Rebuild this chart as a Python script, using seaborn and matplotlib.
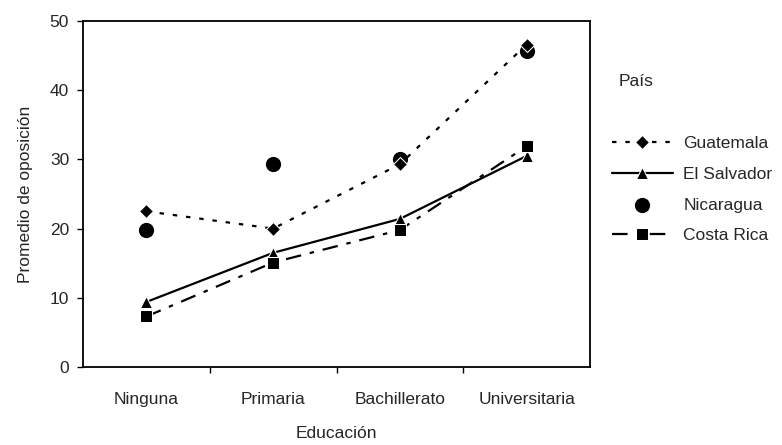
import matplotlib
matplotlib.use('Agg')
import matplotlib.pyplot as plt
import seaborn as sns
import pandas as pd
from matplotlib.ticker import FixedLocator, NullFormatter

# datos
educacion = ['Ninguna', 'Primaria', 'Bachillerato', 'Universitaria']
guatemala = [22.5, 20.0, 29.3, 46.6]
el_salvador = [9.4, 16.5, 21.4, 30.5]
nicaragua = [19.8, 29.4, 30.1, 45.6]
costa_rica = [7.3, 15.1, 19.8, 31.9]


def main():
    sns.set_theme(style='ticks')
    plt.rcParams['font.family'] = ['Liberation Sans', 'DejaVu Sans']
    fs = 12.5

    fig = plt.figure(figsize=(7.82, 4.45), dpi=100)
    ax = fig.add_axes([83 / 782, 78 / 445, 507 / 782, 346 / 445])

    df = pd.DataFrame({'Educación': educacion, 'Guatemala': guatemala,
                       'El Salvador': el_salvador, 'Nicaragua': nicaragua,
                       'Costa Rica': costa_rica})

    sns.lineplot(data=df, x='Educación', y='Guatemala', ax=ax, color='black',
                 marker='D', markersize=7.5, linestyle=(0, (2, 4)), linewidth=1.6,
                 label='Guatemala')
    sns.lineplot(data=df, x='Educación', y='El Salvador', ax=ax, color='black',
                 marker='^', markersize=9, linestyle='-', linewidth=1.6,
                 label='El Salvador')
    sns.scatterplot(data=df, x='Educación', y='Nicaragua', ax=ax, color='black',
                    marker='o', s=120, edgecolor='black', linewidth=0,
                    label='Nicaragua')
    sns.lineplot(data=df, x='Educación', y='Costa Rica', ax=ax, color='black',
                 marker='s', markersize=8.5, linestyle=(0, (7, 4, 2, 4)), linewidth=1.6,
                 label='Costa Rica')

    ax.set_xlim(-0.5, 3.5)
    ax.set_ylim(0, 50)
    ax.set_yticks([0, 10, 20, 30, 40, 50])
    # marcas del eje x entre categorías
    ax.tick_params(axis='x', which='major', length=0, pad=18, labelsize=fs)
    ax.xaxis.set_minor_locator(FixedLocator([0.5, 1.5, 2.5]))
    ax.xaxis.set_minor_formatter(NullFormatter())
    ax.tick_params(axis='x', which='minor', length=4, width=1, color='black')
    ax.tick_params(axis='y', length=4, width=1, color='black', labelsize=fs, pad=6)
    for s in ax.spines.values():
        s.set_visible(True)
        s.set_color('black')
        s.set_linewidth(1.3)

    ax.set_xlabel('Educación', fontsize=fs, labelpad=14)
    ax.set_ylabel('Promedio de oposición', fontsize=fs, labelpad=12)

    ax.legend(loc='upper left', bbox_to_anchor=(612 / 782, 1 - 136 / 445),
              bbox_transform=fig.transFigure, frameon=False, fontsize=fs,
              borderpad=0, borderaxespad=0, handlelength=3.5, handletextpad=0.6,
              labelspacing=0.9)
    fig.text(636 / 782, 1 - 81 / 445, 'País', fontsize=fs, ha='center', va='center')

    fig.savefig('out.png', dpi=100, facecolor='white')


if __name__ == '__main__':
    main()
